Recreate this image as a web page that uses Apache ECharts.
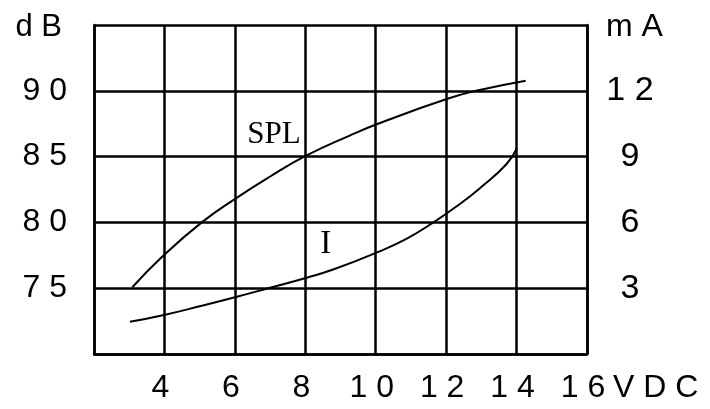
<!DOCTYPE html>
<html>
<head>
<meta charset="utf-8">
<script src="https://cdn.jsdelivr.net/npm/echarts@6/dist/echarts.min.js"></script>
<style>
  html, body { margin: 0; padding: 0; background: #fff; }
  #chart { width: 710px; height: 409px; }
</style>
</head>
<body>
<div id="chart"></div>
<script>
  // 读图得到的数据
  const splVolts = [3.09, 3.92, 5.06, 6.03, 6.99, 8.01, 9.26, 10.12, 12.08, 12.95, 14.26];
  const splDb = [75.07, 77.35, 80.0, 81.83, 83.47, 85.05, 86.6, 87.55, 89.43, 90.06, 90.77];
  const curVolts = [3.02, 3.99, 5.06, 6.03, 6.95, 8.04, 8.79, 10.09, 10.87, 11.63, 12.39, 12.95, 13.71, 14.01];
  const curMa = [1.47, 1.78, 2.2, 2.6, 3.0, 3.48, 3.85, 4.67, 5.25, 5.99, 6.84, 7.55, 8.65, 9.38];

  const xTicks = [4, 6, 8, 10, 12, 14, 16];
  const dbTicks = [75, 80, 85, 90];
  const maTicks = [3, 6, 9, 12];

  const spaced = (v) => String(v).split('').join(' ');
  const sans = '"Liberation Sans", Arial, sans-serif';
  const serif = '"Liberation Serif", "DejaVu Serif", serif';
  const black = '#000';

  const chart = echarts.init(document.getElementById('chart'));
  chart.setOption({
    animation: false,
    backgroundColor: '#fff',
    grid: { left: 94, right: 123, top: 25, bottom: 55, outerBoundsMode: 'none' },
    xAxis: {
      type: 'value',
      min: 2, max: 16, interval: 2,
      name: 'V D C',
      nameLocation: 'end',
      nameGap: 26,
      nameTextStyle: {
        color: black, fontSize: 32, fontFamily: sans,
        align: 'left', verticalAlign: 'top', padding: [18, 0, 0, 0]
      },
      axisLine: { show: true, lineStyle: { color: black, width: 2.5 } },
      axisTick: { show: false },
      splitLine: { show: true, lineStyle: { color: black, width: 2.5 } },
      axisLabel: {
        margin: 18,
        color: black, fontSize: 32, fontFamily: sans,
        padding: [0, 8, 0, 0],
        formatter: (v) => xTicks.includes(v) ? spaced(v) : ''
      }
    },
    yAxis: [{
      type: 'value',
      min: 70, max: 95, interval: 5,
      name: 'd B',
      nameLocation: 'end',
      nameGap: -2,
      nameTextStyle: {
        color: black, fontSize: 31, fontFamily: sans,
        align: 'right', verticalAlign: 'middle', padding: [0, 32, 0, 0]
      },
      axisLine: { show: true, lineStyle: { color: black, width: 2.5 } },
      axisTick: { show: false },
      splitLine: { show: true, lineStyle: { color: black, width: 2.5 } },
      axisLabel: {
        margin: 27,
        color: black, fontSize: 32, fontFamily: sans,
        formatter: (v) => dbTicks.includes(v) ? spaced(v) : ''
      }
    }, {
      type: 'value',
      position: 'right',
      min: 0, max: 15, interval: 3,
      name: 'm A',
      nameLocation: 'end',
      nameGap: -2,
      nameTextStyle: {
        color: black, fontSize: 32, fontFamily: sans,
        align: 'left', verticalAlign: 'middle', padding: [0, 0, 0, 19]
      },
      axisLine: { show: true, lineStyle: { color: black, width: 2.5 } },
      axisTick: { show: false },
      splitLine: { show: false },
      axisLabel: {
        margin: 43,
        align: 'center',
        color: black, fontSize: 34, fontFamily: sans,
        formatter: (v) => maTicks.includes(v) ? spaced(v) : ''
      }
    }],
    series: [{
      name: 'SPL',
      type: 'line',
      yAxisIndex: 0,
      smooth: 0.5,
      symbol: 'none',
      lineStyle: { color: black, width: 2 },
      data: splVolts.map((v, i) => [v, splDb[i]]),
      markPoint: {
        symbol: 'circle', symbolSize: 0,
        label: { show: true, position: 'inside', formatter: 'SPL', color: black, fontSize: 31, fontFamily: serif },
        data: [{ coord: [7.11, 86.68] }]
      }
    }, {
      name: 'I',
      type: 'line',
      yAxisIndex: 1,
      smooth: 0.5,
      symbol: 'none',
      lineStyle: { color: black, width: 2 },
      data: curVolts.map((v, i) => [v, curMa[i]]),
      markPoint: {
        symbol: 'circle', symbolSize: 0,
        label: { show: true, position: 'inside', formatter: 'I', color: black, fontSize: 33, fontFamily: serif },
        data: [{ coord: [8.58, 5.02] }]
      }
    }]
  });
</script>
</body>
</html>
